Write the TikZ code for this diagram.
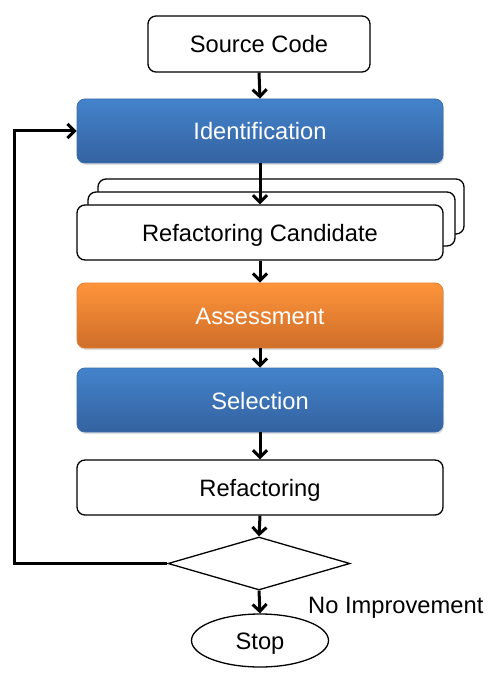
\documentclass[tikz,border=0pt]{standalone}
\usepackage{fontspec}
\setmainfont{Liberation Sans}
\usetikzlibrary{arrows.meta,shapes.geometric,shadows}
\definecolor{bluetop}{RGB}{67,131,203}
\definecolor{bluebot}{RGB}{52,98,160}
\definecolor{blueedge}{RGB}{60,108,175}
\definecolor{orangetop}{RGB}{255,148,58}
\definecolor{orangebot}{RGB}{206,110,42}
\definecolor{orangeedge}{RGB}{225,125,50}
\begin{document}
\begin{tikzpicture}[x=1pt,y=-1pt,
  every node/.style={font=\fontsize{23.7}{28}\selectfont},
  boxtext/.style={text height=18pt,text depth=0pt},
  whitebox/.style={boxtext,draw=black,line width=1.3pt,fill=white,rounded corners=8pt,minimum width=366pt,inner sep=0pt},
  bluebox/.style={boxtext,draw=blueedge,line width=0.8pt,top color=bluetop,bottom color=bluebot,rounded corners=8pt,minimum width=366pt,minimum height=64pt,inner sep=0pt,text=white,
     drop shadow={opacity=0.25,shadow xshift=1pt,shadow yshift=-2pt}},
  orangebox/.style={boxtext,draw=orangeedge,line width=0.8pt,top color=orangetop,bottom color=orangebot,rounded corners=8pt,minimum width=366pt,minimum height=65pt,inner sep=0pt,text=white,
     drop shadow={opacity=0.25,shadow xshift=1pt,shadow yshift=-2pt}},
  flow/.style={line width=3pt,-{Straight Barb[length=7pt,width=14pt,line width=3pt]}}
]
\useasboundingbox (0,0) rectangle (493,676);
\node[whitebox,minimum width=222pt,minimum height=56pt] (src) at (259,44) {Source Code};
\node[bluebox] (ident) at (260,131) {Identification};
\node[whitebox,minimum width=366pt,minimum height=55pt] (cand3) at (281,206.5) {};
\node[whitebox,minimum width=367pt,minimum height=54pt] (cand2) at (271.5,219) {};
\node[whitebox,minimum height=55pt] (cand) at (260,232.5) {Refactoring Candidate};
\node[orangebox] (assess) at (260,315.5) {Assessment};
\node[bluebox] (sel) at (260,400) {Selection};
\node[whitebox,minimum height=55pt] (refac) at (260,487.5) {Refactoring};
\node[draw=black,line width=1.3pt,shape=diamond,aspect=3.43,minimum width=182pt,minimum height=53pt,inner sep=0pt] (dec) at (259,563.5) {};
\node[boxtext,draw=black,line width=1.3pt,ellipse,minimum width=137pt,minimum height=53pt,inner sep=0pt] (stop) at (260,640.5) {Stop};
\node[anchor=base west,inner sep=0pt] (noimp) at (308,613) {No Improvement};
\coordinate (lb) at (14,563.5);
\coordinate (lt) at (14,131);
\draw[flow] (src.south) -- (ident.north);
\draw[flow] (ident.south) -- (cand.north);
\draw[flow] (cand.south) -- (assess.north);
\draw[flow] (assess.south) -- (sel.north);
\draw[flow] (sel.south) -- (refac.north);
\draw[flow] (refac.south) -- (dec.north);
\draw[flow] (dec.south) -- (stop.north);
\draw[flow,line join=miter] (dec.west) -- (lb) -- (lt) -- (ident.west);
\end{tikzpicture}
\end{document}
